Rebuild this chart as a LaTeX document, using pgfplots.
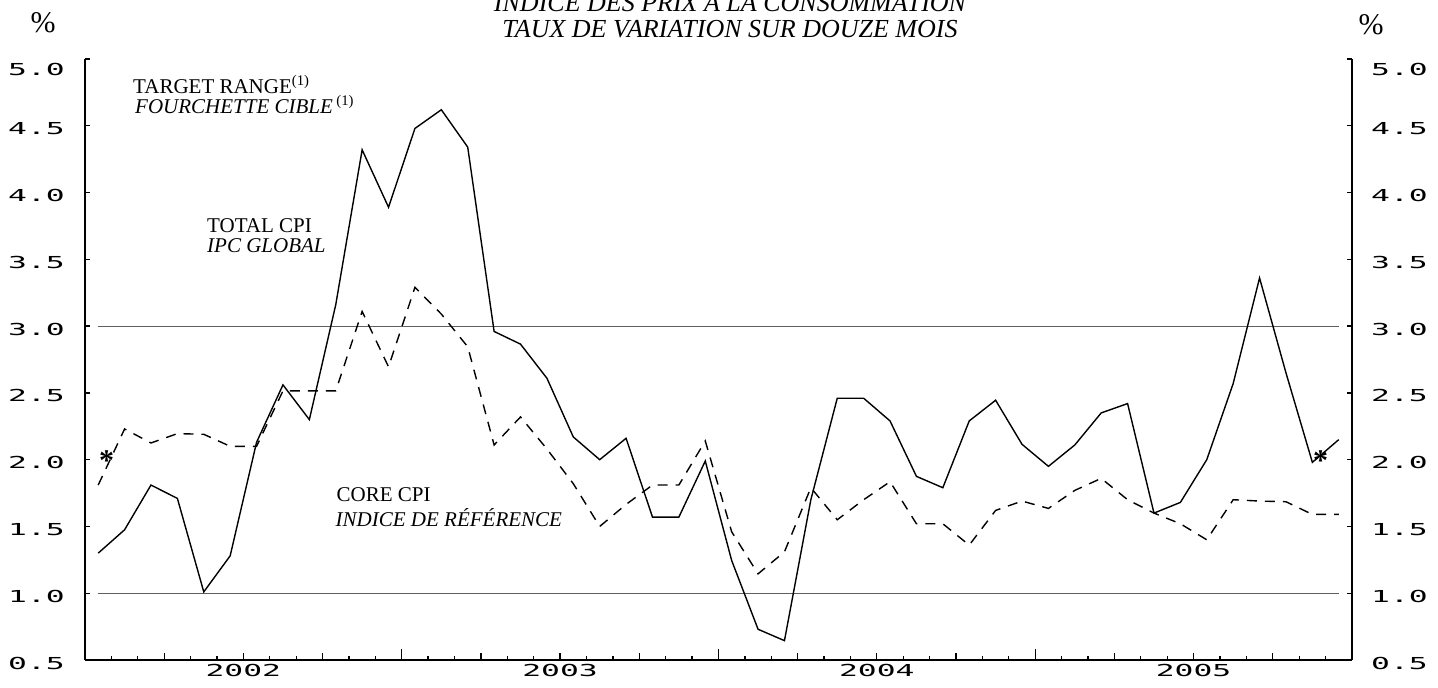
\documentclass[border=0pt]{standalone}
\usepackage{pgfplots}
\usepackage{pgfplotstable}
\pgfplotsset{compat=1.18}
\usepackage{fontspec}
\setmainfont{Liberation Serif}
\newfontfamily\tickfont{DejaVu Sans Mono}
\newcommand{\tl}[1]{\scalebox{1.9}[1]{\fontsize{16.5}{16.5}\selectfont\tickfont #1}}
\newcommand{\tlt}[1]{\raisebox{-7pt}[\height][\depth]{\tl{#1}}}

\pgfplotstableread{
x total core
0.5 1.30 1.81
1.5 1.475 2.23
2.5 1.81 2.125
3.5 1.71 2.195
4.5 1.01 2.19
5.5 1.28 2.10
6.5 2.13 2.10
7.5 2.56 2.515
8.5 2.30 2.515
9.5 3.16 2.515
10.5 4.32 3.11
11.5 3.89 2.695
12.5 4.48 3.29
13.5 4.62 3.09
14.5 4.34 2.845
15.5 2.96 2.11
16.5 2.865 2.32
17.5 2.61 2.08
18.5 2.17 1.82
19.5 2.00 1.50
20.5 2.16 1.665
21.5 1.57 1.81
22.5 1.57 1.81
23.5 1.99 2.14
24.5 1.245 1.46
25.5 0.73 1.145
26.5 0.645 1.31
27.5 1.70 1.79
28.5 2.46 1.55
29.5 2.46 1.70
30.5 2.29 1.835
31.5 1.875 1.52
32.5 1.79 1.52
33.5 2.29 1.36
34.5 2.445 1.62
35.5 2.115 1.69
36.5 1.95 1.635
37.5 2.11 1.77
38.5 2.35 1.86
39.5 2.42 1.70
40.5 1.60 1.60
41.5 1.68 1.52
42.5 2.00 1.40
43.5 2.57 1.70
44.5 3.36 1.69
45.5 2.65 1.685
46.5 1.98 1.59
47.5 2.15 1.59
}\cpidata

\begin{document}
\begin{tikzpicture}
\useasboundingbox (0,0) rectangle (1438pt,688pt);
\begin{axis}[
  at={(85pt,28pt)}, anchor=south west, scale only axis,
  width=1267pt, height=601pt,
  xmin=0, xmax=48, ymin=0.5, ymax=5,
  axis x line*=bottom, axis y line*=left,
  axis line style={line width=1.6pt, -},
  tick align=inside, major tick length=5pt,
  ytick={0.5,1,1.5,2,2.5,3,3.5,4,4.5,5},
  yticklabels={\tl{0.5},\tl{1.0},\tl{1.5},\tl{2.0},\tl{2.5},\tl{3.0},\tl{3.5},\tl{4.0},\tl{4.5},\tlt{5.0}},
  ytick style={line width=1.3pt, black},
  yticklabel style={anchor=east, inner sep=0pt, xshift=-20pt, yshift=-3pt},
  xtick={6,18,30,42},
  xticklabels={\tl{2002},\tl{2003},\tl{2004},\tl{2005}},
  xtick style={draw=none},
  xticklabel style={anchor=north, inner sep=0pt, yshift=-4.5pt},
  clip=false,
]
\addplot[gray!75!black, line width=1pt] coordinates {(0.5,3) (47.5,3)};
\addplot[gray!75!black, line width=1pt] coordinates {(0.5,1) (47.5,1)};
\addplot[black, line width=1.4pt, dash pattern=on 10pt off 8pt] table[x=x,y=core]{\cpidata};
\addplot[black, line width=1.4pt] table[x=x,y=total]{\cpidata};
\pgfplotsinvokeforeach{1,2,4,5,7,8,10,11,13,14,16,17,19,20,22,23,25,26,28,29,31,32,34,35,37,38,40,41,43,44,46,47}{
  \draw[line width=1.3pt] (axis cs:#1,0.5) -- ([yshift=3.5pt]axis cs:#1,0.5);}
\pgfplotsinvokeforeach{3,6,9,15,18,21,27,30,33,39,42,45}{
  \draw[line width=1.3pt] (axis cs:#1,0.5) -- ([yshift=7pt]axis cs:#1,0.5);}
\pgfplotsinvokeforeach{12,24,36}{
  \draw[line width=1.3pt] (axis cs:#1,0.5) -- ([yshift=11pt]axis cs:#1,0.5);}
\end{axis}
\begin{axis}[
  at={(85pt,28pt)}, anchor=south west, scale only axis,
  width=1267pt, height=601pt,
  xmin=0, xmax=48, ymin=0.5, ymax=5,
  axis x line=none, axis y line*=right,
  axis line style={line width=1.6pt, -},
  tick align=inside, major tick length=5pt,
  ytick={0.5,1,1.5,2,2.5,3,3.5,4,4.5,5},
  yticklabels={\tl{0.5},\tl{1.0},\tl{1.5},\tl{2.0},\tl{2.5},\tl{3.0},\tl{3.5},\tl{4.0},\tl{4.5},\tlt{5.0}},
  ytick style={line width=1.3pt, black},
  yticklabel style={anchor=west, inner sep=0pt, xshift=19pt, yshift=-3pt},
  xtick=\empty,
]
\addplot[draw=none] coordinates {(0,1) (48,1)};
\end{axis}
% texts
\node[anchor=base west, inner sep=0pt, font=\fontsize{21}{21}\selectfont] at (133pt,594.7pt) {TARGET RANGE\textsuperscript{(1)}};
\node[anchor=base west, inner sep=0pt, font=\fontsize{21}{21}\selectfont\itshape] at (135pt,574.7pt) {FOURCHETTE CIBLE\,\textsuperscript{\upshape(1)}};
\node[anchor=base west, inner sep=0pt, font=\fontsize{21}{21}\selectfont] at (207pt,455pt) {TOTAL CPI};
\node[anchor=base west, inner sep=0pt, font=\fontsize{21}{21}\selectfont\itshape] at (207pt,435pt) {IPC GLOBAL};
\node[anchor=base west, inner sep=0pt, font=\fontsize{21}{21}\selectfont] at (336.5pt,186.3pt) {CORE CPI};
\node[anchor=base west, inner sep=0pt, font=\fontsize{21}{21}\selectfont\itshape] at (335.5pt,161.3pt) {INDICE DE RÉFÉRENCE};
\node[anchor=base, inner sep=0pt, font=\fontsize{26}{26}\selectfont\itshape] at (730pt,676pt) {INDICE DES PRIX À LA CONSOMMATION};
\node[anchor=base, inner sep=0pt, font=\fontsize{26}{26}\selectfont\itshape] at (730pt,650pt) {TAUX DE VARIATION SUR DOUZE MOIS};
\node[anchor=base, inner sep=0pt, font=\fontsize{30}{30}\selectfont] at (43pt,655pt) {\%};
\node[anchor=base, inner sep=0pt, font=\fontsize{30}{30}\selectfont] at (1371pt,653pt) {\%};
\node[anchor=base, inner sep=0pt, font=\fontsize{30}{30}\selectfont\bfseries] at (106.7pt,217pt) {*};
\node[anchor=base, inner sep=0pt, font=\fontsize{30}{30}\selectfont\bfseries] at (1320.7pt,217pt) {*};
\end{tikzpicture}
\end{document}
